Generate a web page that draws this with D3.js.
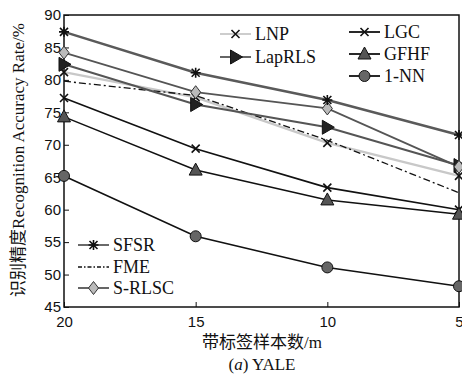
<!DOCTYPE html>
<html>
<head>
<meta charset="utf-8">
<script src="https://cdn.jsdelivr.net/npm/d3@7"></script>
<style>
  body { margin: 0; background: #fff; }
  svg { display: block; }
  .tick text { font-family: "Liberation Sans", Arial, sans-serif; font-size: 15px; fill: #111; }
  .lab { font-family: "Liberation Serif", "Noto Sans CJK SC", serif; fill: #111; }
</style>
</head>
<body>
<div id="chart"></div>
<script>
const width = 462;
const height = 378;
const margin = {left: 64, right: 3, top: 15, bottom: 71};

// 带标签样本数
const samples = ["20", "15", "10", "5"];
const yTicks = [45, 50, 55, 60, 65, 70, 75, 80, 85, 90];

// 识别精度 (%)
const sfsr = [87.4, 81.1, 76.9, 71.5];
const srlsc = [84.2, 78.1, 75.6, 66.6];
const laprls = [82.4, 76.2, 72.7, 66.8];
const lnp = [81.2, 77.3, 70.3, 65.2];
const fme = [79.8, 77.6, 70.7, 62.6];
const lgc = [77.2, 69.4, 63.4, 60.0];
const gfhf = [74.3, 66.1, 61.5, 59.3];
const nn1 = [65.2, 55.9, 51.1, 48.2];

const series = [
    {name: "LNP", values: lnp, color: "#c8c8c8", w: 2.2, mark: "x"},
    {name: "FME", values: fme, color: "#111", w: 1.3, dash: "7,3,2,3", mark: null},
    {name: "LGC", values: lgc, color: "#111", w: 1.6, mark: "x"},
    {name: "GFHF", values: gfhf, color: "#111", w: 1.6, mark: "tri"},
    {name: "1-NN", values: nn1, color: "#111", w: 1.6, mark: "circle"},
    {name: "LapRLS", values: laprls, color: "#555", w: 2, mark: "right"},
    {name: "S-RLSC", values: srlsc, color: "#555", w: 1.8, mark: "diamond"},
    {name: "SFSR", values: sfsr, color: "#5a5a5a", w: 2.6, mark: "star"}
];
const byName = {};
series.forEach(s => byName[s.name] = s);

const svg = d3.select("#chart").append("svg")
    .attr("width", width)
    .attr("height", height);

const x = d3.scalePoint()
    .domain(samples)
    .range([margin.left, width - margin.right]);
const y = d3.scaleLinear()
    .domain([45, 90])
    .range([height - margin.bottom, margin.top]);

// 坐标轴（刻度朝内）
svg.append("g")
    .attr("transform", `translate(0,${height - margin.bottom})`)
    .call(d3.axisBottom(x).tickSize(-5).tickPadding(9))
    .call(g => g.select(".domain").remove())
    .call(g => g.selectAll("line").attr("stroke", "#111"));
svg.append("g")
    .attr("transform", `translate(${margin.left},0)`)
    .call(d3.axisLeft(y).tickValues(yTicks).tickSize(-5).tickPadding(3))
    .call(g => g.select(".domain").remove())
    .call(g => g.selectAll("line").attr("stroke", "#111"));

svg.append("rect")
    .attr("x", margin.left)
    .attr("y", margin.top)
    .attr("width", width - margin.left - margin.right)
    .attr("height", height - margin.top - margin.bottom)
    .attr("fill", "none")
    .attr("stroke", "#111")
    .attr("stroke-width", 1.5);

// 标记
function drawMark(g, type, cx, cy) {
    if (type === "x") {
        g.append("path")
            .attr("d", `M${cx-4},${cy-4}L${cx+4},${cy+4}M${cx-4},${cy+4}L${cx+4},${cy-4}`)
            .attr("stroke", "#111").attr("stroke-width", 1.6);
    } else if (type === "star") {
        g.append("path")
            .attr("d", `M${cx-5},${cy}L${cx+5},${cy}M${cx},${cy-5}L${cx},${cy+5}` +
                `M${cx-4},${cy-4}L${cx+4},${cy+4}M${cx-4},${cy+4}L${cx+4},${cy-4}`)
            .attr("stroke", "#111").attr("stroke-width", 1.6);
    } else if (type === "tri") {
        g.append("path")
            .attr("d", `M${cx},${cy-7}L${cx+6.5},${cy+5}L${cx-6.5},${cy+5}Z`)
            .attr("fill", "#555").attr("stroke", "#111").attr("stroke-width", 1);
    } else if (type === "right") {
        g.append("path")
            .attr("d", `M${cx-5},${cy-7}L${cx+7},${cy}L${cx-5},${cy+7}Z`)
            .attr("fill", "#222").attr("stroke", "#111").attr("stroke-width", 1);
    } else if (type === "circle") {
        g.append("circle")
            .attr("cx", cx).attr("cy", cy).attr("r", 5.5)
            .attr("fill", "#666").attr("stroke", "#111").attr("stroke-width", 1);
    } else if (type === "diamond") {
        g.append("path")
            .attr("d", `M${cx},${cy-6.5}L${cx+5},${cy}L${cx},${cy+6.5}L${cx-5},${cy}Z`)
            .attr("fill", "#bbb").attr("stroke", "#333").attr("stroke-width", 1);
    }
}

const line = d3.line()
    .x((d, i) => x(samples[i]))
    .y(d => y(d));

series.forEach(s => {
    svg.append("path")
        .datum(s.values)
        .attr("d", line)
        .attr("fill", "none")
        .attr("stroke", s.color)
        .attr("stroke-width", s.w)
        .attr("stroke-dasharray", s.dash || null);
});
series.forEach(s => {
    if (!s.mark) return;
    const g = svg.append("g");
    s.values.forEach((v, i) => drawMark(g, s.mark, x(samples[i]), y(v)));
});

// 图例
const legends = [
    {name: "LNP", x: 220, y: 34},
    {name: "LapRLS", x: 220, y: 57},
    {name: "LGC", x: 349, y: 32},
    {name: "GFHF", x: 349, y: 54},
    {name: "1-NN", x: 349, y: 76},
    {name: "SFSR", x: 78, y: 245},
    {name: "FME", x: 78, y: 267},
    {name: "S-RLSC", x: 78, y: 288}
];
legends.forEach(l => {
    const s = byName[l.name];
    const g = svg.append("g");
    g.append("line")
        .attr("x1", l.x).attr("x2", l.x + 31)
        .attr("y1", l.y).attr("y2", l.y)
        .attr("stroke", s.color)
        .attr("stroke-width", s.name === "FME" ? 1.3 : 1.8)
        .attr("stroke-dasharray", s.name === "FME" ? "4,2,1.5,2" : null);
    if (s.mark) drawMark(g, s.mark, l.x + 15.5, l.y);
    g.append("text")
        .attr("class", "lab")
        .attr("x", l.x + 35)
        .attr("y", l.y)
        .attr("dy", "0.35em")
        .attr("font-size", 18)
        .text(s.name);
});

// 轴标题
svg.append("text")
    .attr("class", "lab")
    .attr("x", 262)
    .attr("y", 342)
    .attr("dy", "0.35em")
    .attr("text-anchor", "middle")
    .attr("font-size", 17)
    .text("带标签样本数/m");

const cap = svg.append("text")
    .attr("class", "lab")
    .attr("x", 262)
    .attr("y", 364)
    .attr("dy", "0.35em")
    .attr("text-anchor", "middle")
    .attr("font-size", 17);
cap.append("tspan").text("(");
cap.append("tspan").attr("font-style", "italic").text("a");
cap.append("tspan").text(") YALE");

svg.append("text")
    .attr("class", "lab")
    .attr("transform", "translate(18,160) rotate(-90)")
    .attr("dy", "0.35em")
    .attr("text-anchor", "middle")
    .attr("font-size", 17)
    .text("识别精度Recognition Accuracy Rate/%");
</script>
</body>
</html>
